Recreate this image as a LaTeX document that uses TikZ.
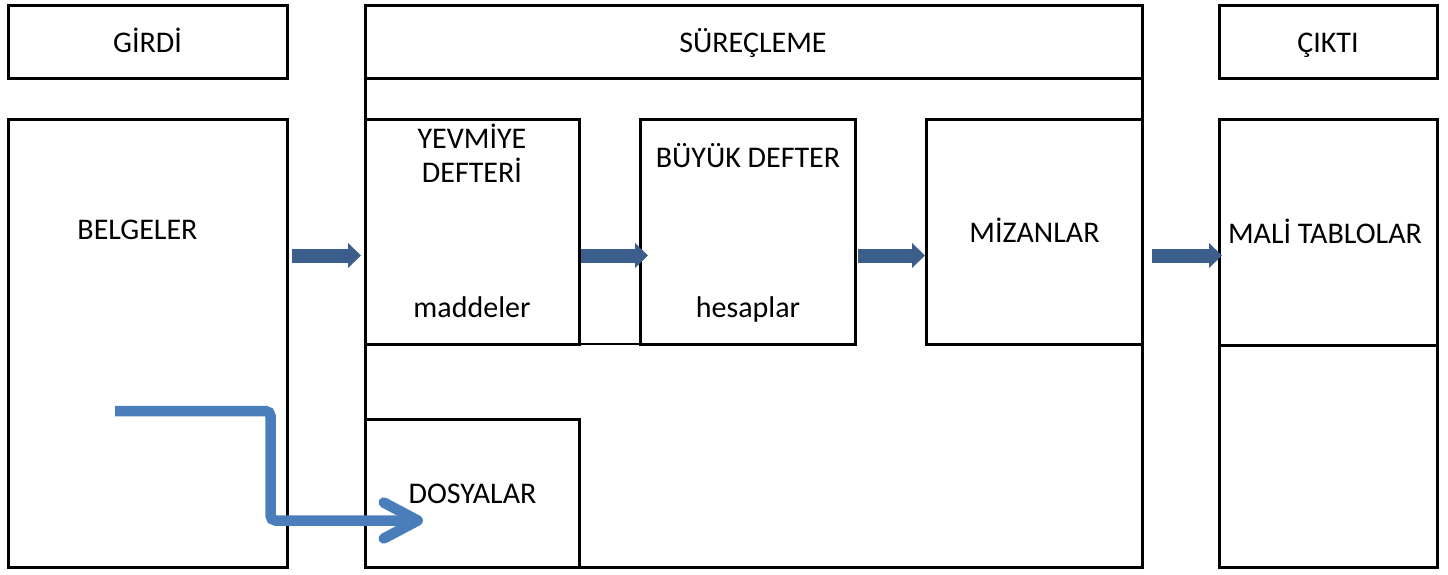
\documentclass[tikz,border=0pt]{standalone}
\usepackage{fontspec}
\setmainfont{Carlito}
\usetikzlibrary{fit,arrows.meta}
\definecolor{darkarrow}{HTML}{3B5E8B}
\definecolor{lightarrow}{HTML}{4A7EBB}
\begin{document}
\begin{tikzpicture}[x=0.5pt,y=-0.5pt,
  box/.style={draw=black, line width=1.5pt, inner sep=0pt, outer sep=0pt},
  lbl/.style={font=\fontsize{15pt}{17pt}\selectfont, inner sep=0pt, anchor=base, text=black},
  blk/.style={draw=darkarrow, line width=7pt, -{Triangle[length=6.5pt, width=12.5pt, line width=0pt]}},
  bendarrow/.style={draw=lightarrow, line width=5.25pt, rounded corners=2.5pt, -{Straight Barb[length=17pt, width=18pt, round]}}]
\useasboundingbox (0,0) rectangle (1448,574);
% boxes
\node[box, fit={(8,5) (287,78)}] (girdi) {};
\node[box, fit={(8,119) (287,567)}] (belgeler) {};
\node[box, fit={(365,5) (1142,567)}] (surec) {};
\node[box, fit={(365,5) (1142,78)}] (surech) {};
\node[box, fit={(365,119) (579,344)}] (yevmiye) {};
\node[box, fit={(640,119) (855,344)}] (buyuk) {};
\node[box, fit={(926,119) (1142,344)}] (mizan) {};
\node[box, fit={(365,419) (579,567)}] (dosya) {};
\node[box, fit={(1219,5) (1437,78)}] (cikti) {};
\node[box, fit={(1219,119) (1437,345)}] (mali) {};
\node[box, fit={(1219,345) (1437,567)}] (malialt) {};
\draw[line width=1pt] (yevmiye.south east) -- (buyuk.south west);
% labels
\node[lbl] (tgirdi) at (147.5,52) {GİRDİ};
\node[lbl] (tsurec) at (753,52) {SÜREÇLEME};
\node[lbl] (tcikti) at (1328,52) {ÇIKTI};
\node[lbl] (tbelge) at (137.5,239) {BELGELER};
\node[lbl] (tyev1) at (472,148) {YEVMİYE};
\node[lbl] (tyev2) at (472,182) {DEFTERİ};
\node[lbl] (tmadde) at (472,317) {maddeler};
\node[lbl] (tbuyuk) at (748,167) {BÜYÜK DEFTER};
\node[lbl] (thesap) at (748,317) {hesaplar};
\node[lbl] (tmizan) at (1034.5,242) {MİZANLAR};
\node[lbl] (tmali) at (1325,243) {MALİ TABLOLAR};
\node[lbl] (tdosya) at (472.5,503) {DOSYALAR};
% block arrows
\coordinate (ay) at (0,255.5);
\draw[blk, shorten <=2.5pt, shorten >=2pt] (belgeler.east |- ay) -- (yevmiye.west |- ay);
\draw[blk, shorten <=1pt, shorten >=-4pt] (yevmiye.east |- ay) -- (buyuk.west |- ay);
\draw[blk, shorten <=1.5pt, shorten >=0.5pt] (buyuk.east |- ay) -- (mizan.west |- ay);
\draw[blk, shorten <=5pt, shorten >=-1.5pt] (mizan.east |- ay) -- (mali.west |- ay);
% bent arrow
\coordinate (bs) at (115,411);
\coordinate (bx) at (270.5,0);
\coordinate (be) at (423,520.5);
\draw[bendarrow] (bs) -- (bs -| bx) -- (be -| bx) -- (be);
\end{tikzpicture}
\end{document}
